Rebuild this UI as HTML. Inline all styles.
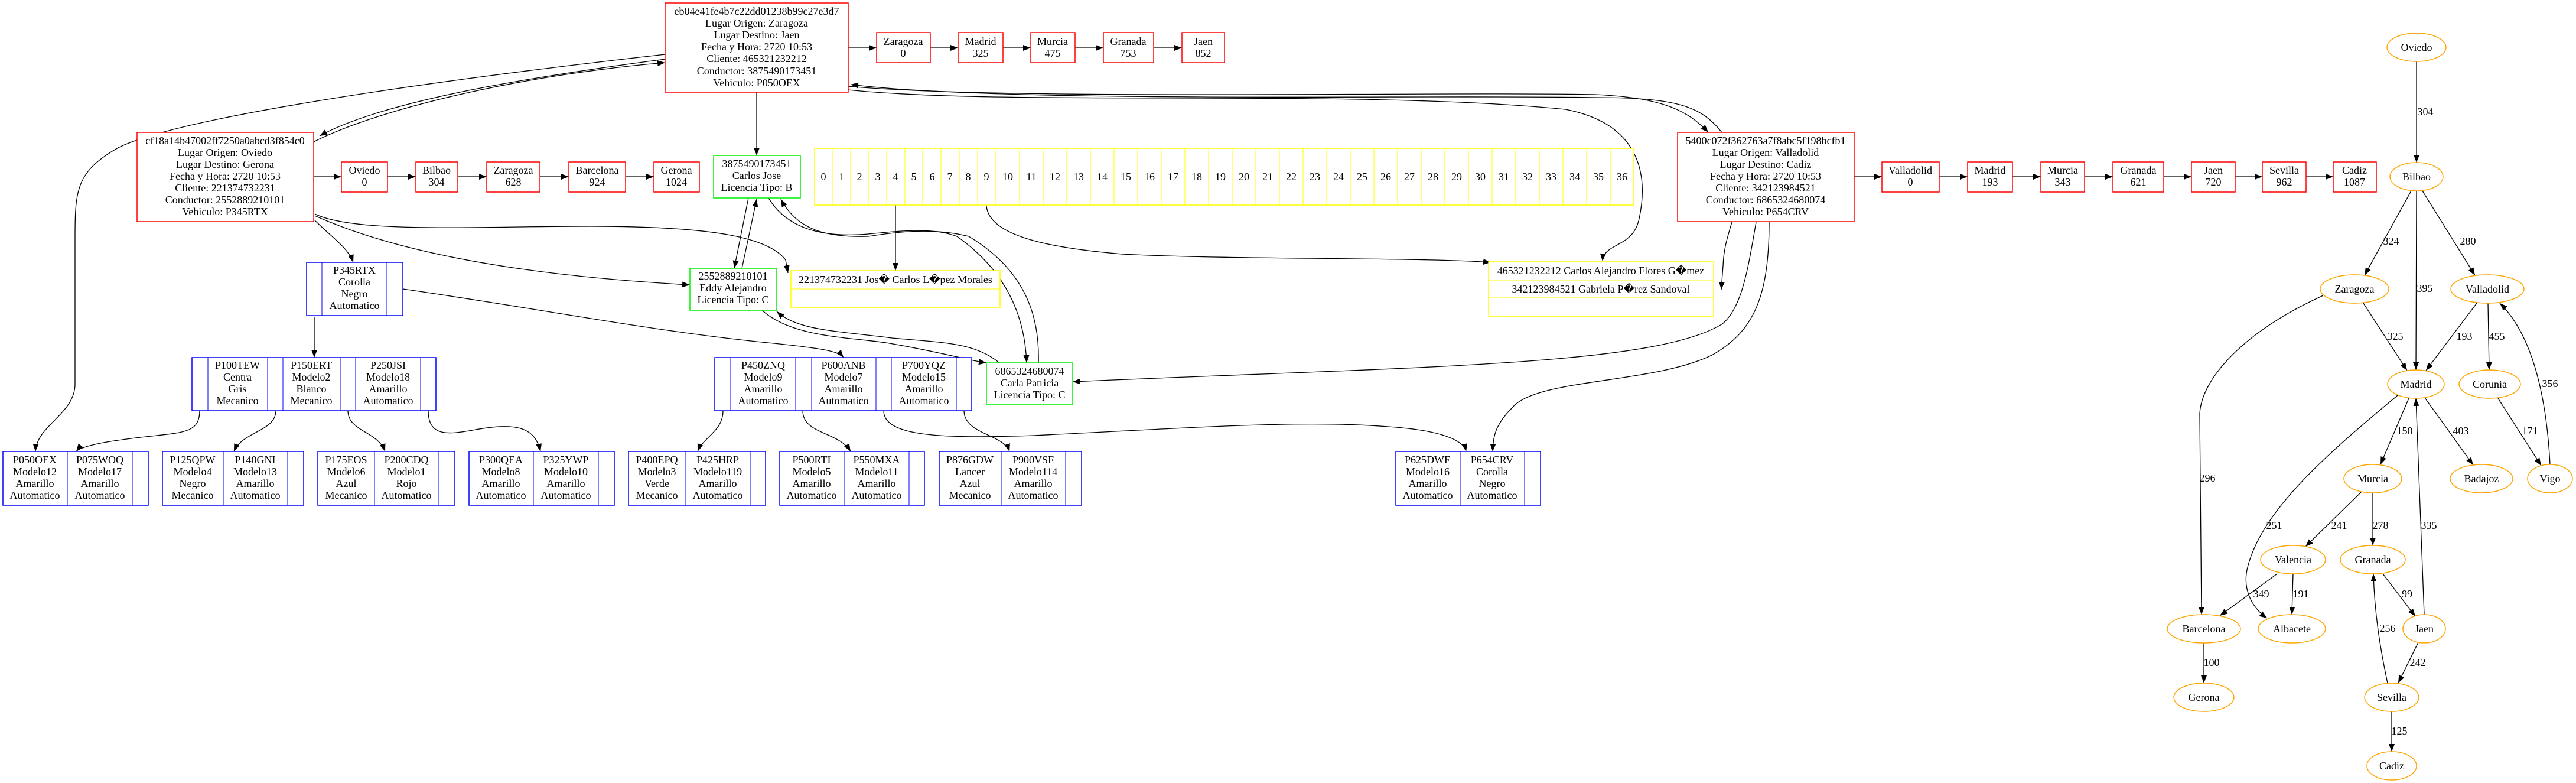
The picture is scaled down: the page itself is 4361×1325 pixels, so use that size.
<!DOCTYPE html>
<html><head><meta charset="utf-8"><style>
html,body{margin:0;padding:0;background:#fff;}
svg{display:block;}
text{font-family:"Liberation Serif","Noto Serif CJK SC",serif;font-size:18px;text-anchor:middle;fill:#000;}
.e{fill:none;stroke:#000;stroke-width:1.3;}
.r{fill:#fff;stroke:#ff0000;stroke-width:1.5;}
.b{fill:#fff;stroke:#0000ff;stroke-width:1.5;}
.g{fill:#fff;stroke:#00ee00;stroke-width:1.5;}
.y{fill:#fff;stroke:#ffff00;stroke-width:1.5;}
.o{fill:#fff;stroke:#ffa500;stroke-width:1.5;}
.bl{stroke:#0000ff;stroke-width:1;}
.yl{stroke:#ffff00;stroke-width:1;}
</style></head><body>
<svg width="4361" height="1325" viewBox="0 0 4361 1325" xmlns="http://www.w3.org/2000/svg">
<defs><marker id="a" markerUnits="userSpaceOnUse" markerWidth="14" markerHeight="12" refX="13" refY="5" orient="auto"><path d="M0,0 L13,5 L0,10 z" fill="#000"/></marker></defs>

<!-- EDGES -->
<g class="e" marker-end="url(#a)">
<path d="M1436,81 L1484,81"/><path d="M1575,81 L1622,81"/><path d="M1698,81 L1745,81"/><path d="M1820,81 L1868,81"/><path d="M1953,81 L2001,81"/>
<path d="M531,299 L578,299"/><path d="M656,299 L704,299"/><path d="M775,299 L824,299"/><path d="M914,299 L963,299"/><path d="M1059,299 L1107,299"/>
<path d="M3139,299 L3186,299"/><path d="M3283,299 L3331,299"/><path d="M3407,299 L3455,299"/><path d="M3529,299 L3577,299"/><path d="M3663,299 L3710,299"/><path d="M3784,299 L3830,299"/><path d="M3904,299 L3950,299"/>
<path d="M1281,156 L1281,263"/>
<path d="M1126,100 C900,130 650,170 541,230"/>
<path d="M531,240 C650,180 900,125 1126,106"/>
<path d="M1126,92 C700,140 300,200 200,250 C130,290 127,320 127,400 L127,650 C127,700 62,720 60,764"/>
<path d="M1436,146 C1700,170 2400,155 2700,160 C2820,165 2860,190 2892,224"/>
<path d="M2915,224 C2880,180 2840,165 2700,165 C2400,160 1700,175 1440,143"/>
<path d="M1436,152 C1700,180 2300,150 2650,185 C2780,210 2790,300 2775,370 C2765,420 2715,410 2713,442"/>
<path d="M1516,347 L1516,458"/>
<path d="M1670,349 C1675,400 1780,420 1900,430 C2100,440 2400,435 2524,444"/>
<path d="M533,373 C560,400 590,420 598,444"/>
<path d="M533,365 C700,440 950,470 1168,482"/>
<path d="M533,362 C600,395 800,383 1000,383 C1200,383 1300,400 1330,440 L1334,462"/>
<path d="M1267,335 L1243,454"/>
<path d="M1256,454 L1281,337"/>
<path d="M1301,335 C1340,400 1420,400 1470,396 C1530,390 1580,385 1620,400 C1720,470 1736,560 1738,614"/>
<path d="M1758,614 C1760,540 1740,460 1640,400 C1580,385 1520,392 1470,400 C1400,402 1350,390 1322,337"/>
<path d="M1290,525 C1340,570 1430,570 1500,580 C1590,595 1640,610 1670,614"/>
<path d="M1692,614 C1650,580 1600,580 1510,572 C1420,560 1350,560 1315,527"/>
<path d="M682,489 C900,520 1100,560 1300,580 C1400,590 1420,595 1428,605"/>
<path d="M2932,376 C2925,400 2918,420 2917,450 L2914,490"/>
<path d="M2973,376 C2960,450 2950,520 2916,548 C2800,620 2400,620 1816,646"/>
<path d="M2995,376 C2995,500 2970,560 2900,600 C2800,650 2600,640 2560,690 C2530,720 2528,740 2527,764"/>
<path d="M532,537 L532,605"/>
<path d="M338,695 C338,740 300,730 200,745 C150,752 132,760 129,764"/>
<path d="M467,695 C467,730 410,730 396,764"/>
<path d="M589,695 C589,730 640,730 652,764"/>
<path d="M725,695 C725,740 760,735 800,728 C870,715 905,720 915,764"/>
<path d="M1224,695 C1224,730 1190,740 1181,764"/>
<path d="M1359,695 C1359,735 1420,730 1440,764"/>
<path d="M1496,695 C1496,740 1600,742 1750,737 C2000,725 2200,710 2350,722 C2440,728 2478,745 2482,764"/>
<path d="M1632,695 C1632,735 1700,735 1709,764"/>
<!-- city graph -->
<path d="M4091,104 L4091,275"/>
<path d="M4082,323 L4003,466"/>
<path d="M4091,323 L4090,626"/>
<path d="M4101,323 L4190,466"/>
<path d="M4001,513 L4075,627"/>
<path d="M4193,513 L4107,627"/>
<path d="M4212,513 L4214,626"/>
<path d="M4317,786 C4310,650 4280,560 4232,513"/>
<path d="M4229,674 L4302,788"/>
<path d="M3933,500 C3800,560 3727,640 3724,700 L3727,1040"/>
<path d="M4078,674 L4030,786"/>
<path d="M4105,673 L4187,787"/>
<path d="M4059,669 C3950,760 3830,860 3805,960 C3795,1000 3815,1030 3838,1046"/>
<path d="M4104,1040 L4090,674"/>
<path d="M3997,833 L3903,925"/>
<path d="M4017,834 L4017,923"/>
<path d="M3855,971 L3758,1042"/>
<path d="M3882,971 L3880,1040"/>
<path d="M4034,971 L4089,1043"/>
<path d="M4042,1156 C4030,1100 4020,1040 4018,971"/>
<path d="M4094,1087 L4060,1156"/>
<path d="M3731,1088 L3731,1156"/>
<path d="M4049,1204 L4049,1272"/>
</g>

<!-- RED RECORDS -->
<rect class="r" x="1126" y="5" width="310" height="151"/>
<text x="1281" y="25">eb04e41fe4b7c22dd01238b99c27e3d7</text>
<text x="1281" y="45">Lugar Origen: Zaragoza</text>
<text x="1281" y="65">Lugar Destino: Jaen</text>
<text x="1281" y="85">Fecha y Hora: 2720 10:53</text>
<text x="1281" y="105">Cliente: 465321232212</text>
<text x="1281" y="126">Conductor: 3875490173451</text>
<text x="1281" y="146">Vehiculo: P050OEX</text>

<rect class="r" x="232" y="224" width="299" height="151"/>
<text x="381" y="244">cf18a14b47002ff7250a0abcd3f854c0</text>
<text x="381" y="264">Lugar Origen: Oviedo</text>
<text x="381" y="284">Lugar Destino: Gerona</text>
<text x="381" y="304">Fecha y Hora: 2720 10:53</text>
<text x="381" y="324">Cliente: 221374732231</text>
<text x="381" y="344">Conductor: 2552889210101</text>
<text x="381" y="364">Vehiculo: P345RTX</text>

<rect class="r" x="2840" y="224" width="299" height="151"/>
<text x="2989" y="244">5400c072f362763a7f8abc5f198bcfb1</text>
<text x="2989" y="264">Lugar Origen: Valladolid</text>
<text x="2989" y="284">Lugar Destino: Cadiz</text>
<text x="2989" y="304">Fecha y Hora: 2720 10:53</text>
<text x="2989" y="324">Cliente: 342123984521</text>
<text x="2989" y="344">Conductor: 6865324680074</text>
<text x="2989" y="364">Vehiculo: P654CRV</text>

<!-- route boxes -->
<rect class="r" x="1484" y="55" width="91" height="51"/><text x="1529" y="76">Zaragoza</text><text x="1529" y="96">0</text>
<rect class="r" x="1622" y="55" width="76" height="51"/><text x="1660" y="76">Madrid</text><text x="1660" y="96">325</text>
<rect class="r" x="1745" y="55" width="75" height="51"/><text x="1782" y="76">Murcia</text><text x="1782" y="96">475</text>
<rect class="r" x="1868" y="55" width="85" height="51"/><text x="1910" y="76">Granada</text><text x="1910" y="96">753</text>
<rect class="r" x="2001" y="55" width="72" height="51"/><text x="2037" y="76">Jaen</text><text x="2037" y="96">852</text>

<rect class="r" x="578" y="274" width="78" height="51"/><text x="617" y="294">Oviedo</text><text x="617" y="314">0</text>
<rect class="r" x="704" y="274" width="71" height="51"/><text x="739" y="294">Bilbao</text><text x="739" y="314">304</text>
<rect class="r" x="824" y="274" width="90" height="51"/><text x="869" y="294">Zaragoza</text><text x="869" y="314">628</text>
<rect class="r" x="963" y="274" width="96" height="51"/><text x="1011" y="294">Barcelona</text><text x="1011" y="314">924</text>
<rect class="r" x="1107" y="274" width="77" height="51"/><text x="1145" y="294">Gerona</text><text x="1145" y="314">1024</text>

<rect class="r" x="3186" y="274" width="97" height="51"/><text x="3234" y="294">Valladolid</text><text x="3234" y="314">0</text>
<rect class="r" x="3331" y="274" width="76" height="51"/><text x="3369" y="294">Madrid</text><text x="3369" y="314">193</text>
<rect class="r" x="3455" y="274" width="74" height="51"/><text x="3492" y="294">Murcia</text><text x="3492" y="314">343</text>
<rect class="r" x="3577" y="274" width="86" height="51"/><text x="3620" y="294">Granada</text><text x="3620" y="314">621</text>
<rect class="r" x="3710" y="274" width="74" height="51"/><text x="3747" y="294">Jaen</text><text x="3747" y="314">720</text>
<rect class="r" x="3830" y="274" width="74" height="51"/><text x="3867" y="294">Sevilla</text><text x="3867" y="314">962</text>
<rect class="r" x="3950" y="274" width="73" height="51"/><text x="3986" y="294">Cadiz</text><text x="3986" y="314">1087</text>

<!-- GREEN -->
<rect class="g" x="1208" y="263" width="147" height="72"/>
<text x="1281" y="283">3875490173451</text><text x="1281" y="303">Carlos Jose</text><text x="1281" y="323">Licencia Tipo: B</text>
<rect class="g" x="1168" y="454" width="147" height="71"/>
<text x="1241" y="473">2552889210101</text><text x="1241" y="493">Eddy Alejandro</text><text x="1241" y="513">Licencia Tipo: C</text>
<rect class="g" x="1670" y="614" width="146" height="71"/>
<text x="1743" y="634">6865324680074</text><text x="1743" y="654">Carla Patricia</text><text x="1743" y="674">Licencia Tipo: C</text>

<!-- YELLOW ARRAY -->
<rect class="y" x="1379" y="251" width="1387" height="96"/>
<g class="yl">
<line x1="1409" y1="251" x2="1409" y2="347"/><line x1="1440" y1="251" x2="1440" y2="347"/><line x1="1470" y1="251" x2="1470" y2="347"/><line x1="1501" y1="251" x2="1501" y2="347"/><line x1="1532" y1="251" x2="1532" y2="347"/><line x1="1562" y1="251" x2="1562" y2="347"/><line x1="1593" y1="251" x2="1593" y2="347"/><line x1="1624" y1="251" x2="1624" y2="347"/><line x1="1655" y1="251" x2="1655" y2="347"/><line x1="1686" y1="251" x2="1686" y2="347"/>
<line x1="1726" y1="251" x2="1726" y2="347"/><line x1="1766" y1="251" x2="1766" y2="347"/><line x1="1806" y1="251" x2="1806" y2="347"/><line x1="1846" y1="251" x2="1846" y2="347"/><line x1="1886" y1="251" x2="1886" y2="347"/><line x1="1926" y1="251" x2="1926" y2="347"/><line x1="1966" y1="251" x2="1966" y2="347"/><line x1="2006" y1="251" x2="2006" y2="347"/><line x1="2046" y1="251" x2="2046" y2="347"/><line x1="2086" y1="251" x2="2086" y2="347"/><line x1="2126" y1="251" x2="2126" y2="347"/><line x1="2166" y1="251" x2="2166" y2="347"/><line x1="2206" y1="251" x2="2206" y2="347"/><line x1="2246" y1="251" x2="2246" y2="347"/><line x1="2286" y1="251" x2="2286" y2="347"/><line x1="2326" y1="251" x2="2326" y2="347"/><line x1="2366" y1="251" x2="2366" y2="347"/><line x1="2406" y1="251" x2="2406" y2="347"/><line x1="2446" y1="251" x2="2446" y2="347"/><line x1="2486" y1="251" x2="2486" y2="347"/><line x1="2526" y1="251" x2="2526" y2="347"/><line x1="2566" y1="251" x2="2566" y2="347"/><line x1="2606" y1="251" x2="2606" y2="347"/><line x1="2646" y1="251" x2="2646" y2="347"/><line x1="2686" y1="251" x2="2686" y2="347"/><line x1="2726" y1="251" x2="2726" y2="347"/>
</g>
<g>
<text x="1394" y="305">0</text><text x="1425" y="305">1</text><text x="1455" y="305">2</text><text x="1486" y="305">3</text><text x="1516" y="305">4</text><text x="1547" y="305">5</text><text x="1578" y="305">6</text><text x="1608" y="305">7</text><text x="1639" y="305">8</text><text x="1670" y="305">9</text>
<text x="1706" y="305">10</text><text x="1746" y="305">11</text><text x="1786" y="305">12</text><text x="1826" y="305">13</text><text x="1866" y="305">14</text><text x="1906" y="305">15</text><text x="1946" y="305">16</text><text x="1986" y="305">17</text><text x="2026" y="305">18</text><text x="2066" y="305">19</text><text x="2106" y="305">20</text><text x="2146" y="305">21</text><text x="2186" y="305">22</text><text x="2226" y="305">23</text><text x="2266" y="305">24</text><text x="2306" y="305">25</text><text x="2346" y="305">26</text><text x="2386" y="305">27</text><text x="2426" y="305">28</text><text x="2466" y="305">29</text><text x="2506" y="305">30</text><text x="2546" y="305">31</text><text x="2586" y="305">32</text><text x="2626" y="305">33</text><text x="2666" y="305">34</text><text x="2706" y="305">35</text><text x="2746" y="305">36</text>
</g>

<rect class="y" x="1339" y="458" width="354" height="62"/><line class="yl" x1="1339" y1="489" x2="1693" y2="489"/>
<text x="1516" y="479">221374732231 Jos� Carlos L�pez Morales</text>
<rect class="y" x="2520" y="443" width="381" height="92"/><line class="yl" x1="2520" y1="474" x2="2901" y2="474"/><line class="yl" x1="2520" y1="504" x2="2901" y2="504"/>
<text x="2710" y="464">465321232212 Carlos Alejandro Flores G�mez</text>
<text x="2710" y="495">342123984521 Gabriela P�rez Sandoval</text>

<!-- BLUE -->
<rect class="b" x="519" y="444" width="163" height="90"/>
<line class="bl" x1="545" y1="444" x2="545" y2="534"/><line class="bl" x1="654" y1="444" x2="654" y2="534"/>
<text x="600" y="463">P345RTX</text><text x="600" y="483">Corolla</text><text x="600" y="503">Negro</text><text x="600" y="523">Automatico</text>

<rect class="b" x="325" y="605" width="413" height="90"/>
<g class="bl"><line x1="352" y1="605" x2="352" y2="695"/><line x1="453" y1="605" x2="453" y2="695"/><line x1="479" y1="605" x2="479" y2="695"/><line x1="576" y1="605" x2="576" y2="695"/><line x1="602" y1="605" x2="602" y2="695"/><line x1="712" y1="605" x2="712" y2="695"/></g>
<text x="402" y="624">P100TEW</text><text x="402" y="644">Centra</text><text x="402" y="664">Gris</text><text x="402" y="684">Mecanico</text>
<text x="527" y="624">P150ERT</text><text x="527" y="644">Modelo2</text><text x="527" y="664">Blanco</text><text x="527" y="684">Mecanico</text>
<text x="657" y="624">P250JSI</text><text x="657" y="644">Modelo18</text><text x="657" y="664">Amarillo</text><text x="657" y="684">Automatico</text>

<rect class="b" x="1210" y="605" width="435" height="90"/>
<g class="bl"><line x1="1237" y1="605" x2="1237" y2="695"/><line x1="1347" y1="605" x2="1347" y2="695"/><line x1="1374" y1="605" x2="1374" y2="695"/><line x1="1483" y1="605" x2="1483" y2="695"/><line x1="1509" y1="605" x2="1509" y2="695"/><line x1="1619" y1="605" x2="1619" y2="695"/></g>
<text x="1292" y="624">P450ZNQ</text><text x="1292" y="644">Modelo9</text><text x="1292" y="664">Amarillo</text><text x="1292" y="684">Automatico</text>
<text x="1428" y="624">P600ANB</text><text x="1428" y="644">Modelo7</text><text x="1428" y="664">Amarillo</text><text x="1428" y="684">Automatico</text>
<text x="1564" y="624">P700YQZ</text><text x="1564" y="644">Modelo15</text><text x="1564" y="664">Amarillo</text><text x="1564" y="684">Automatico</text>

<!-- lower boxes -->
<g>
<rect class="b" x="5" y="764" width="246" height="91"/><line class="bl" x1="114" y1="764" x2="114" y2="855"/><line class="bl" x1="224" y1="764" x2="224" y2="855"/>
<text x="59" y="784">P050OEX</text><text x="59" y="804">Modelo12</text><text x="59" y="824">Amarillo</text><text x="59" y="844">Automatico</text>
<text x="169" y="784">P075WOQ</text><text x="169" y="804">Modelo17</text><text x="169" y="824">Amarillo</text><text x="169" y="844">Automatico</text>

<rect class="b" x="275" y="764" width="239" height="91"/><line class="bl" x1="378" y1="764" x2="378" y2="855"/><line class="bl" x1="487" y1="764" x2="487" y2="855"/>
<text x="326" y="784">P125QPW</text><text x="326" y="804">Modelo4</text><text x="326" y="824">Negro</text><text x="326" y="844">Mecanico</text>
<text x="432" y="784">P140GNI</text><text x="432" y="804">Modelo13</text><text x="432" y="824">Amarillo</text><text x="432" y="844">Automatico</text>

<rect class="b" x="538" y="764" width="232" height="91"/><line class="bl" x1="634" y1="764" x2="634" y2="855"/><line class="bl" x1="743" y1="764" x2="743" y2="855"/>
<text x="586" y="784">P175EOS</text><text x="586" y="804">Modelo6</text><text x="586" y="824">Azul</text><text x="586" y="844">Mecanico</text>
<text x="688" y="784">P200CDQ</text><text x="688" y="804">Modelo1</text><text x="688" y="824">Rojo</text><text x="688" y="844">Automatico</text>

<rect class="b" x="794" y="764" width="246" height="91"/><line class="bl" x1="903" y1="764" x2="903" y2="855"/><line class="bl" x1="1013" y1="764" x2="1013" y2="855"/>
<text x="848" y="784">P300QEA</text><text x="848" y="804">Modelo8</text><text x="848" y="824">Amarillo</text><text x="848" y="844">Automatico</text>
<text x="958" y="784">P325YWP</text><text x="958" y="804">Modelo10</text><text x="958" y="824">Amarillo</text><text x="958" y="844">Automatico</text>

<rect class="b" x="1064" y="764" width="232" height="91"/><line class="bl" x1="1160" y1="764" x2="1160" y2="855"/><line class="bl" x1="1270" y1="764" x2="1270" y2="855"/>
<text x="1112" y="784">P400EPQ</text><text x="1112" y="804">Modelo3</text><text x="1112" y="824">Verde</text><text x="1112" y="844">Mecanico</text>
<text x="1215" y="784">P425HRP</text><text x="1215" y="804">Modelo119</text><text x="1215" y="824">Amarillo</text><text x="1215" y="844">Automatico</text>

<rect class="b" x="1320" y="764" width="245" height="91"/><line class="bl" x1="1429" y1="764" x2="1429" y2="855"/><line class="bl" x1="1539" y1="764" x2="1539" y2="855"/>
<text x="1374" y="784">P500RTI</text><text x="1374" y="804">Modelo5</text><text x="1374" y="824">Amarillo</text><text x="1374" y="844">Automatico</text>
<text x="1484" y="784">P550MXA</text><text x="1484" y="804">Modelo11</text><text x="1484" y="824">Amarillo</text><text x="1484" y="844">Automatico</text>

<rect class="b" x="1590" y="764" width="241" height="91"/><line class="bl" x1="1695" y1="764" x2="1695" y2="855"/><line class="bl" x1="1804" y1="764" x2="1804" y2="855"/>
<text x="1642" y="784">P876GDW</text><text x="1642" y="804">Lancer</text><text x="1642" y="824">Azul</text><text x="1642" y="844">Mecanico</text>
<text x="1749" y="784">P900VSF</text><text x="1749" y="804">Modelo114</text><text x="1749" y="824">Amarillo</text><text x="1749" y="844">Automatico</text>

<rect class="b" x="2363" y="764" width="245" height="91"/><line class="bl" x1="2472" y1="764" x2="2472" y2="855"/><line class="bl" x1="2581" y1="764" x2="2581" y2="855"/>
<text x="2417" y="784">P625DWE</text><text x="2417" y="804">Modelo16</text><text x="2417" y="824">Amarillo</text><text x="2417" y="844">Automatico</text>
<text x="2526" y="784">P654CRV</text><text x="2526" y="804">Corolla</text><text x="2526" y="824">Negro</text><text x="2526" y="844">Automatico</text>
</g>

<!-- CITY GRAPH -->
<g>
<ellipse class="o" cx="4091" cy="80" rx="50" ry="24"/><text x="4091" y="86">Oviedo</text>
<ellipse class="o" cx="4091" cy="299" rx="45" ry="24"/><text x="4091" y="305">Bilbao</text>
<ellipse class="o" cx="3986" cy="489" rx="58" ry="24"/><text x="3986" y="495">Zaragoza</text>
<ellipse class="o" cx="4211" cy="489" rx="62" ry="24"/><text x="4211" y="495">Valladolid</text>
<ellipse class="o" cx="4090" cy="650" rx="48" ry="24"/><text x="4090" y="656">Madrid</text>
<ellipse class="o" cx="4215" cy="650" rx="52" ry="24"/><text x="4215" y="656">Corunia</text>
<ellipse class="o" cx="4017" cy="810" rx="49" ry="24"/><text x="4017" y="816">Murcia</text>
<ellipse class="o" cx="4201" cy="810" rx="53" ry="24"/><text x="4201" y="816">Badajoz</text>
<ellipse class="o" cx="4317" cy="810" rx="38" ry="24"/><text x="4317" y="816">Vigo</text>
<ellipse class="o" cx="3882" cy="947" rx="55" ry="24"/><text x="3882" y="953">Valencia</text>
<ellipse class="o" cx="4017" cy="947" rx="55" ry="24"/><text x="4017" y="953">Granada</text>
<ellipse class="o" cx="3731" cy="1064" rx="62" ry="24"/><text x="3731" y="1070">Barcelona</text>
<ellipse class="o" cx="3880" cy="1064" rx="57" ry="24"/><text x="3880" y="1070">Albacete</text>
<ellipse class="o" cx="4104" cy="1064" rx="36" ry="24"/><text x="4104" y="1070">Jaen</text>
<ellipse class="o" cx="3731" cy="1180" rx="51" ry="24"/><text x="3731" y="1186">Gerona</text>
<ellipse class="o" cx="4049" cy="1180" rx="46" ry="24"/><text x="4049" y="1186">Sevilla</text>
<ellipse class="o" cx="4049" cy="1296" rx="42" ry="24"/><text x="4049" y="1302">Cadiz</text>
</g>
<g>
<text x="4106" y="195">304</text><text x="4048" y="414">324</text><text x="4105" y="494">395</text><text x="4178" y="414">280</text>
<text x="4055" y="575">325</text><text x="4172" y="575">193</text><text x="4227" y="575">455</text><text x="4317" y="655">356</text>
<text x="3737" y="815">296</text><text x="4071" y="735">150</text><text x="4166" y="735">403</text><text x="4283" y="735">171</text>
<text x="3960" y="895">241</text><text x="4030" y="895">278</text><text x="4112" y="895">335</text><text x="3850" y="895">251</text>
<text x="3828" y="1011">349</text><text x="3895" y="1011">191</text><text x="4075" y="1011">99</text><text x="4042" y="1069">256</text>
<text x="4093" y="1127">242</text><text x="3744" y="1127">100</text><text x="4062" y="1243">125</text>
</g>
</svg>
</body></html>
